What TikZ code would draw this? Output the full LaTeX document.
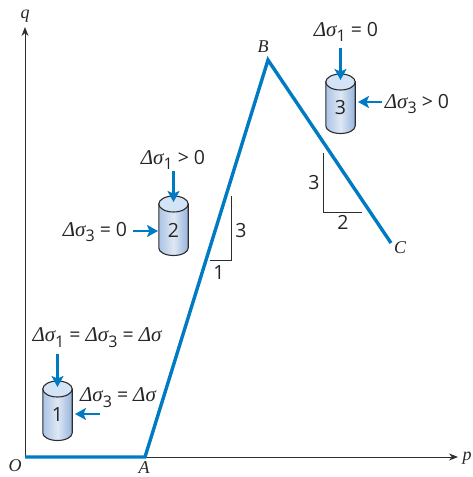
\documentclass[tikz,border=0pt]{standalone}
\usepackage{fontspec}
\setmainfont{Open Sans}
\newfontfamily\serifit[Ligatures=TeX]{Liberation Serif}
\usetikzlibrary{arrows.meta}
\definecolor{curveblue}{RGB}{0,122,194}
\definecolor{axisgrey}{RGB}{45,45,48}
\definecolor{cylmid}{RGB}{222,232,245}
\definecolor{cylleft}{RGB}{170,195,228}
\definecolor{cylright}{RGB}{150,180,220}
\definecolor{captop}{RGB}{210,228,245}
\newcommand{\dsg}{{\fontsize{21}{22}\selectfont\serifit\itshape Δσ}}
\newcommand{\dsgi}[1]{\dsg\raisebox{-0.3em}{\fontsize{16}{16}\selectfont #1}}
\tikzset{
  every node/.style={font=\fontsize{19.5}{22}\selectfont, inner sep=0pt, text=black!85},
  axisline/.style={draw=axisgrey, line width=1pt, -{Stealth[length=9pt,width=7pt]}},
  curve/.style={draw=curveblue, line width=3.4pt, line join=miter},
  slope/.style={draw=axisgrey, line width=1pt},
  load/.style={draw=curveblue, line width=2.4pt, -{Stealth[length=11pt,width=12pt,inset=2.5pt]}},
  ptlabel/.style={font=\fontsize{18}{18}\selectfont\serifit\itshape},
  cylbody/.style={draw=axisgrey, line width=1.1pt, left color=cylleft, right color=cylright, middle color=cylmid},
  captopstyle/.style={draw=axisgrey, line width=1.1pt, fill=captop},
}
\newcommand{\cyl}[4]{% name, cx, top y, label
  \path[cylbody] (#2-14.7,#3) -- (#2-14.7,#3+44) arc[start angle=180,end angle=0,x radius=14.7,y radius=7.5] -- (#2+14.7,#3) -- cycle;
  \path[captopstyle] (#2,#3) ellipse[x radius=14.7,y radius=8];
  \node (#1) at (#2,#3+26) {#4};
}
\begin{document}
\begin{tikzpicture}[x=1pt,y=-1pt]
\useasboundingbox (0,0) rectangle (473,477);
\coordinate (O) at (25,457);
\coordinate (A) at (145,457);
\coordinate (B) at (268,60);
\coordinate (C) at (391,243);
\coordinate (qend) at (25,27);
\coordinate (pend) at (458,457);
\draw[axisline] (O) -- (qend);
\draw[axisline] (O) -- (pend);
\draw[curve] (O) -- (A) -- (B) -- (C);
\node[ptlabel] (qlab) at (25,16) {q};
\node[ptlabel] (plab) at (467,458) {p};
\node[ptlabel] (Olab) at (15,466) {O};
\node[ptlabel] (Alab) at (144,468) {A};
\node[ptlabel] (Blab) at (263,47) {B};
\node[ptlabel] (Clab) at (400,248) {C};
% slope triangles
\coordinate (s1a) at (231,196);
\coordinate (s1b) at (231,260);
\coordinate (s1c) at (210,260);
\draw[slope] (s1a) -- (s1b) -- (s1c);
\node (s1v) at (241,231) {3};
\node (s1h) at (219,273) {1};
\coordinate (s2a) at (323.5,153);
\coordinate (s2b) at (323.5,212);
\coordinate (s2c) at (362,212);
\draw[slope] (s2a) -- (s2b) -- (s2c);
\node (s2v) at (314,183) {3};
\node (s2h) at (343,222) {2};
% cylinders
\cyl{c1}{57.5}{389}{1}
\cyl{c2}{173.5}{204}{2}
\cyl{c3}{340.5}{82}{3}
% labels
\node (t1a) at (97,338) {\dsgi{1} = \dsgi{3} = \dsg};
\node (t1b) at (118,398) {\dsgi{3} = \dsg};
\node (t2a) at (173,160) {\dsgi{1} > 0};
\node (t2b) at (95,232) {\dsgi{3} = 0};
\node (t3a) at (346,32) {\dsgi{1} = 0};
\node (t3b) at (417,104) {\dsgi{3} > 0};
% load arrows
\coordinate (l1a) at (57.5,354);
\coordinate (l1ae) at (57.5,387);
\coordinate (l1b) at (100,414);
\coordinate (l1be) at (75,414);
\coordinate (l2a) at (173.5,171);
\coordinate (l2ae) at (173.5,202);
\coordinate (l2b) at (133,231);
\coordinate (l2be) at (158,231);
\coordinate (l3a) at (340.5,48);
\coordinate (l3ae) at (340.5,80);
\coordinate (l3b) at (382,102);
\coordinate (l3be) at (358,102);
\draw[load] (l1a) -- (l1ae);
\draw[load] (l1b) -- (l1be);
\draw[load] (l2a) -- (l2ae);
\draw[load] (l2b) -- (l2be);
\draw[load] (l3a) -- (l3ae);
\draw[load] (l3b) -- (l3be);
\end{tikzpicture}
\end{document}
